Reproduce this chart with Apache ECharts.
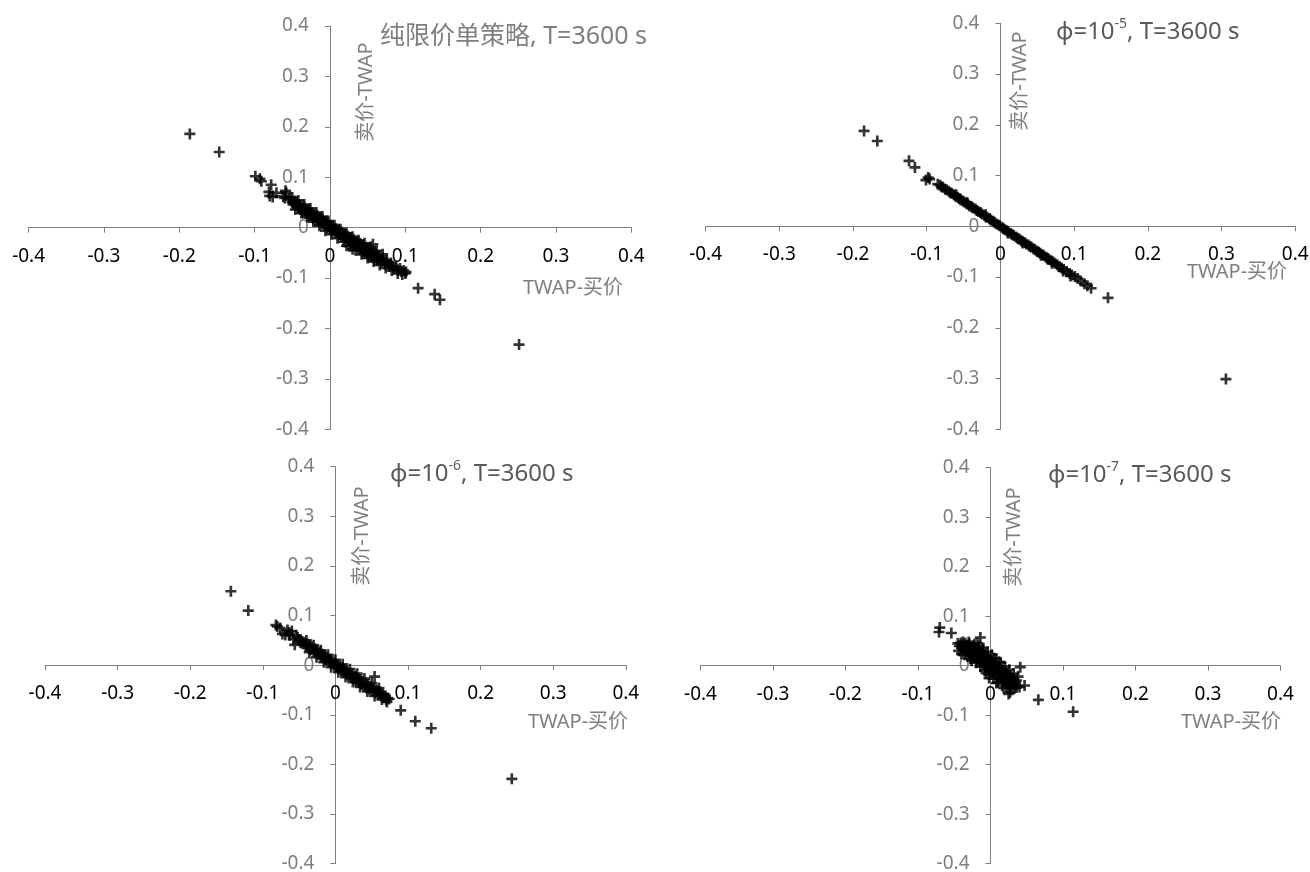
<!DOCTYPE html>
<html>
<head>
<meta charset="utf-8">
<script src="https://cdn.jsdelivr.net/npm/echarts@6/dist/echarts.min.js"></script>
<style>
html,body{margin:0;padding:0;background:#fff;}
#chart{width:1310px;height:872px;}
</style>
</head>
<body>
<div id="chart"></div>
<script>
// ---------- data ----------
const axisMin = -0.4;
const axisMax = 0.4;
const axisStep = 0.1;

const xAxisName = 'TWAP-买价';
const yAxisName = '卖价-TWAP';

const panelTitles = [
  '纯限价单策略, T=3600 s',
  '{m|ϕ=10}{s|-5}{m|, T=3600 s}',
  '{m|ϕ=10}{s|-6}{m|, T=3600 s}',
  '{m|ϕ=10}{s|-7}{m|, T=3600 s}'
];

// Panel 1: pure limit-order strategy
const pointsPure = [
  [-0.186,0.186],[-0.147,0.150],[0.251,-0.232],[0.117,-0.120],[0.139,-0.132],[0.146,-0.143],
  [-0.099,0.102],[-0.093,0.097],[-0.091,0.092],[-0.078,0.085],[-0.081,0.071],[-0.080,0.063],
  [-0.076,0.061],[-0.071,0.069],[-0.059,0.073],[-0.058,0.069],[-0.062,0.062],[-0.060,0.059],
  [-0.054,0.058],[-0.052,0.055],[-0.050,0.050],[-0.049,0.046],[-0.047,0.053],[-0.045,0.044],
  [-0.044,0.049],[-0.042,0.040],[-0.041,0.046],[-0.040,0.036],[-0.038,0.043],[-0.037,0.038],
  [-0.036,0.032],[-0.034,0.040],[-0.033,0.035],[-0.032,0.028],[-0.030,0.036],[-0.029,0.031],
  [-0.028,0.025],[-0.027,0.033],[-0.025,0.027],[-0.024,0.022],[-0.023,0.030],[-0.022,0.017],
  [-0.021,0.025],[-0.019,0.021],[-0.018,0.014],[-0.017,0.024],[-0.016,0.018],[-0.014,0.012],
  [-0.013,0.020],[-0.012,0.015],[-0.011,0.008],[-0.010,0.016],[-0.008,0.011],[-0.007,0.004],
  [-0.006,0.012],[-0.005,0.006],[-0.004,0.000],[-0.003,0.009],[-0.002,0.003],[0.000,-0.003],
  [0.001,0.005],[0.002,0.000],[0.003,-0.007],[0.004,0.002],[0.006,-0.004],[0.007,-0.010],
  [0.008,-0.002],[0.010,-0.008],[0.011,-0.014],[0.012,-0.006],[0.014,-0.012],[0.015,-0.018],
  [0.016,-0.009],[0.018,-0.016],[0.019,-0.022],[0.020,-0.013],[0.022,-0.036],[0.022,-0.020],
  [0.023,-0.026],[0.024,-0.017],[0.026,-0.024],[0.027,-0.030],[0.028,-0.020],[0.030,-0.043],
  [0.030,-0.028],[0.031,-0.034],[0.032,-0.024],[0.034,-0.032],[0.035,-0.038],[0.036,-0.028],
  [0.038,-0.036],[0.039,-0.043],[0.040,-0.031],[0.042,-0.040],[0.043,-0.047],[0.044,-0.035],
  [0.046,-0.044],[0.047,-0.051],[0.048,-0.039],[0.050,-0.048],[0.051,-0.055],[0.052,-0.042],
  [0.054,-0.051],[0.055,-0.058],[0.056,-0.046],[0.057,-0.033],[0.058,-0.055],[0.059,-0.062],
  [0.060,-0.050],[0.062,-0.058],[0.063,-0.065],[0.065,-0.055],[0.066,-0.062],[0.068,-0.069],
  [0.070,-0.060],[0.071,-0.066],[0.073,-0.073],[0.075,-0.065],[0.077,-0.071],[0.079,-0.077],
  [0.081,-0.070],[0.083,-0.076],[0.085,-0.082],[0.088,-0.078],[0.090,-0.084],[0.093,-0.081],
  [0.095,-0.087],[0.098,-0.085],[0.100,-0.091],[0.101,-0.088],
  [-0.050,0.060],[-0.042,0.054],[-0.034,0.046],[-0.026,0.038],[-0.018,0.030],[-0.010,0.022],
  [-0.002,0.013],[0.006,0.005],[0.014,-0.003],[0.022,-0.011],[0.030,-0.018],[0.038,-0.025],
  [0.046,-0.031],[0.054,-0.038],[0.062,-0.046],[0.070,-0.053],
  [-0.046,0.036],[-0.038,0.029],[-0.030,0.021],[-0.022,0.012],[-0.014,0.004],[-0.006,-0.006],
  [0.002,-0.013],[0.010,-0.021],[0.018,-0.028],[0.026,-0.037],[0.034,-0.045],[0.042,-0.053],
  [0.050,-0.060],[0.058,-0.067],[0.066,-0.074],[0.074,-0.080],[0.082,-0.085],[0.090,-0.091],
  [0.096,-0.093]
];

// Panel 2: phi = 1e-5
const pointsPhi5 = [
  [-0.185,0.188],[-0.167,0.168],[-0.124,0.129],[-0.116,0.116],[-0.098,0.096],[-0.101,0.091],
  [-0.096,0.093],[0.306,-0.301],[0.146,-0.141],[0.123,-0.122],
  [-0.085,0.083],[-0.082,0.081],[-0.080,0.078],[-0.078,0.077],[-0.075,0.073],[-0.073,0.072],
  [-0.070,0.069],[-0.068,0.066],[-0.066,0.065],[-0.063,0.062],[-0.061,0.059],[-0.058,0.057],
  [-0.056,0.055],[-0.054,0.052],[-0.051,0.050],[-0.049,0.048],[-0.046,0.045],[-0.044,0.043],
  [-0.042,0.040],[-0.039,0.038],[-0.037,0.036],[-0.034,0.034],[-0.032,0.031],[-0.030,0.029],
  [-0.027,0.027],[-0.025,0.024],[-0.022,0.022],[-0.020,0.019],[-0.018,0.018],[-0.015,0.015],
  [-0.013,0.012],[-0.010,0.010],[-0.008,0.008],[-0.006,0.005],[-0.003,0.003],[-0.001,0.001],
  [0.002,-0.002],[0.004,-0.004],[0.006,-0.007],[0.009,-0.009],[0.011,-0.011],[0.014,-0.014],
  [0.016,-0.016],[0.018,-0.018],[0.021,-0.021],[0.023,-0.023],[0.026,-0.025],[0.028,-0.028],
  [0.030,-0.030],[0.033,-0.032],[0.035,-0.035],[0.038,-0.037],[0.040,-0.040],[0.042,-0.041],
  [0.045,-0.044],[0.047,-0.046],[0.050,-0.049],[0.052,-0.051],[0.054,-0.053],[0.057,-0.056],
  [0.059,-0.058],[0.062,-0.061],[0.064,-0.063],[0.066,-0.065],[0.069,-0.068],[0.071,-0.070],
  [0.074,-0.073],[0.077,-0.076],[0.080,-0.079],[0.083,-0.082],[0.086,-0.085],[0.090,-0.089],
  [0.094,-0.093],[0.097,-0.096],[0.101,-0.099],[0.105,-0.103],[0.109,-0.108],[0.114,-0.113],
  [0.118,-0.117],[-0.060,0.062],[-0.045,0.047],[-0.020,0.023],[0.010,-0.013],[0.030,-0.033],
  [0.055,-0.057],[0.070,-0.073],[0.085,-0.088],[0.095,-0.098]
];

// Panel 3: phi = 1e-6
const pointsPhi6 = [
  [-0.144,0.149],[-0.120,0.110],[0.243,-0.229],[0.090,-0.091],[0.110,-0.113],[0.132,-0.127],
  [-0.082,0.081],[-0.080,0.078],[-0.076,0.075],[-0.073,0.063],[-0.069,0.061],[-0.066,0.071],
  [-0.064,0.066],[-0.063,0.060],[-0.060,0.069],[-0.058,0.053],[-0.056,0.041],[-0.054,0.060],
  [-0.052,0.056],[-0.050,0.051],[-0.048,0.045],[-0.047,0.049],[-0.045,0.043],[-0.043,0.046],
  [-0.041,0.039],[-0.039,0.043],[-0.037,0.035],[-0.035,0.039],[-0.034,0.031],[-0.032,0.036],
  [-0.030,0.028],[-0.028,0.033],[-0.027,0.024],[-0.025,0.029],[-0.023,0.021],[-0.021,0.026],
  [-0.020,0.017],[-0.018,0.022],[-0.016,0.014],[-0.014,0.019],[-0.013,0.010],[-0.011,0.015],
  [-0.009,0.007],[-0.007,0.011],[-0.006,0.003],[-0.004,0.008],[-0.002,0.000],[0.000,0.004],
  [0.001,-0.004],[0.003,0.001],[0.005,-0.007],[0.006,-0.002],[0.008,-0.011],[0.010,-0.005],
  [0.011,-0.014],[0.013,-0.009],[0.015,-0.018],[0.016,-0.012],[0.018,-0.021],[0.020,-0.015],
  [0.022,-0.025],[0.023,-0.018],[0.025,-0.028],[0.027,-0.022],[0.028,-0.032],[0.030,-0.025],
  [0.032,-0.035],[0.034,-0.028],[0.035,-0.039],[0.037,-0.032],[0.039,-0.042],[0.041,-0.035],
  [0.043,-0.046],[0.045,-0.039],[0.047,-0.049],[0.049,-0.043],[0.051,-0.052],[0.053,-0.046],
  [0.054,-0.023],[0.055,-0.055],[0.057,-0.050],[0.059,-0.058],[0.061,-0.053],[0.063,-0.062],
  [0.065,-0.058],[0.067,-0.065],[0.069,-0.062],[0.070,-0.070],[0.072,-0.066],[0.074,-0.068],
  [-0.040,0.050],[-0.030,0.040],[-0.020,0.030],[-0.010,0.021],[0.000,0.011],[0.010,0.002],
  [0.020,-0.008],[0.030,-0.017],[0.040,-0.027],[0.050,-0.036],[0.060,-0.046],
  [-0.036,0.026],[-0.026,0.016],[-0.016,0.006],[-0.006,-0.004],[0.004,-0.014],[0.014,-0.024],
  [0.024,-0.034],[0.034,-0.044],[0.044,-0.053],[0.054,-0.062],[0.064,-0.069],[0.071,-0.074]
];

// Panel 4: phi = 1e-7
const pointsPhi7 = [
  [-0.070,0.077],[-0.071,0.068],[-0.054,0.066],[0.114,-0.093],[0.066,-0.069],[0.041,-0.003],
  [0.047,-0.040],[0.027,-0.054],[-0.014,0.057],[0.025,-0.057],
  [-0.045,0.045],[-0.043,0.040],[-0.041,0.046],[-0.040,0.036],[-0.038,0.042],[-0.037,0.032],
  [-0.035,0.046],[-0.035,0.038],[-0.034,0.028],[-0.032,0.042],[-0.032,0.034],[-0.031,0.024],
  [-0.029,0.044],[-0.029,0.030],[-0.028,0.037],[-0.027,0.020],[-0.026,0.033],[-0.025,0.026],
  [-0.024,0.040],[-0.023,0.016],[-0.022,0.029],[-0.021,0.022],[-0.020,0.036],[-0.019,0.012],
  [-0.018,0.025],[-0.017,0.018],[-0.016,0.031],[-0.015,0.008],[-0.014,0.021],[-0.013,0.014],
  [-0.012,0.027],[-0.011,0.003],[-0.010,0.017],[-0.009,0.009],[-0.008,0.022],[-0.007,-0.002],
  [-0.006,0.012],[-0.005,0.004],[-0.004,0.017],[-0.003,-0.007],[-0.002,0.007],[-0.001,-0.001],
  [0.000,0.012],[0.001,-0.012],[0.002,0.002],[0.003,-0.006],[0.004,0.007],[0.005,-0.017],
  [0.006,-0.003],[0.007,-0.011],[0.008,0.003],[0.009,-0.022],[0.010,-0.008],[0.011,-0.016],
  [0.012,-0.002],[0.013,-0.026],[0.014,-0.013],[0.015,-0.021],[0.016,-0.007],[0.017,-0.030],
  [0.018,-0.018],[0.019,-0.026],[0.020,-0.012],[0.021,-0.034],[0.022,-0.022],[0.023,-0.030],
  [0.024,-0.017],[0.025,-0.038],[0.026,-0.026],[0.027,-0.034],[0.028,-0.021],[0.029,-0.042],
  [0.030,-0.030],[0.031,-0.037],[0.032,-0.026],[0.033,-0.045],[0.034,-0.034],[0.035,-0.040],
  [0.036,-0.030],[-0.002,-0.025],[0.005,0.015],[-0.018,0.045],[-0.010,0.030],[0.012,0.008],
  [-0.006,-0.015],[0.008,-0.035],[0.018,-0.045],[0.040,-0.043],
  [-0.044,0.030],[-0.038,0.048],[-0.036,0.022],[-0.030,0.048],[-0.028,0.014],[-0.022,0.044],
  [-0.020,0.006],[-0.016,0.040],[-0.014,-0.002],[-0.010,0.036],[-0.008,-0.010],[-0.004,0.028],
  [-0.002,-0.018],[0.002,0.022],[0.004,-0.026],[0.008,0.014],[0.010,-0.034],[0.014,0.006],
  [0.016,-0.040],[0.020,-0.002],[0.022,-0.044],[0.026,-0.008],[0.028,-0.046],[0.032,-0.016],
  [0.036,-0.044],[0.038,-0.022],[-0.026,0.010],[-0.040,0.024]
];

const panelData = [pointsPure, pointsPhi5, pointsPhi6, pointsPhi7];

// ---------- layout ----------
const FONT = "'Noto Sans', 'Noto Sans CJK SC', sans-serif";
const grids = [
  {left: 28.6, top: 26, width: 602.7, height: 403.3},
  {left: 705.6, top: 23.3, width: 589.6, height: 406},
  {left: 45, top: 466.7, width: 580.8, height: 397},
  {left: 700.5, top: 467.7, width: 580, height: 396}
];
const titlePos = [[380, 37], [1056, 32], [390, 474], [1048, 475]];
const yNamePos = [[366, 92], [1020, 81], [362, 536], [1014, 537]];
const xNamePos = [[573, 288], [1237, 272], [578, 722], [1231, 722]];

const plusPath = 'path://M3.8,0H6.2V3.8H10V6.2H6.2V10H3.8V6.2H0V3.8H3.8Z';
const fmt = v => String(+(+v).toFixed(1));

const chart = echarts.init(document.getElementById('chart'), null, {renderer: 'canvas'});

const option = {
  animation: false,
  backgroundColor: '#ffffff',
  grid: grids.map(g => Object.assign({containLabel: false, outerBoundsMode: 'none'}, g)),
  // axes cross at the origin: the range is symmetric, so the zero lines sit mid-grid
  xAxis: grids.map((g, i) => ({
    type: 'value', gridIndex: i, min: axisMin, max: axisMax, interval: axisStep,
    position: 'bottom', offset: -g.height / 2,
    axisLine: {show: true, onZero: false, lineStyle: {color: '#7f7f7f', width: 1}},
    axisTick: {show: true, inside: false, length: 5, lineStyle: {color: '#7f7f7f'}},
    axisLabel: {color: '#000000', fontSize: 19, fontFamily: FONT, margin: 19, formatter: fmt},
    splitLine: {show: false}
  })),
  yAxis: grids.map((g, i) => ({
    type: 'value', gridIndex: i, min: axisMin, max: axisMax, interval: axisStep,
    position: 'left', offset: -g.width / 2,
    axisLine: {show: true, onZero: false, lineStyle: {color: '#7f7f7f', width: 1}},
    axisTick: {show: true, inside: false, length: 5, lineStyle: {color: '#7f7f7f'}},
    axisLabel: {color: '#7f7f7f', fontSize: 19, fontFamily: FONT, margin: 21, formatter: fmt},
    splitLine: {show: false}
  })),
  series: panelData.map((d, i) => ({
    type: 'scatter', xAxisIndex: i, yAxisIndex: i, data: d,
    symbol: plusPath, symbolSize: 11,
    itemStyle: {color: '#000000'}
  })),
  graphic: [].concat(
    panelTitles.map((t, i) => ({
      type: 'text', x: titlePos[i][0], y: titlePos[i][1],
      style: {
        text: t, fill: i === 0 ? '#7f7f7f' : '#595959',
        fontSize: i === 0 ? 25 : 24, fontFamily: FONT, align: 'left', verticalAlign: 'middle',
        rich: {
          m: {fontSize: 24, fontFamily: FONT, fill: '#595959', lineHeight: 30},
          s: {fontSize: 14, fontFamily: FONT, fill: '#595959', lineHeight: 16, verticalAlign: 'top'}
        }
      }
    })),
    yNamePos.map(p => ({
      type: 'text', x: p[0], y: p[1], rotation: Math.PI / 2,
      style: {text: yAxisName, fill: '#7f7f7f', fontSize: 20, fontFamily: FONT,
              align: 'center', verticalAlign: 'middle'}
    })),
    xNamePos.map(p => ({
      type: 'text', x: p[0], y: p[1],
      style: {text: xAxisName, fill: '#7f7f7f', fontSize: 20, fontFamily: FONT,
              align: 'center', verticalAlign: 'middle'}
    }))
  )
};
chart.setOption(option);
</script>
</body>
</html>
